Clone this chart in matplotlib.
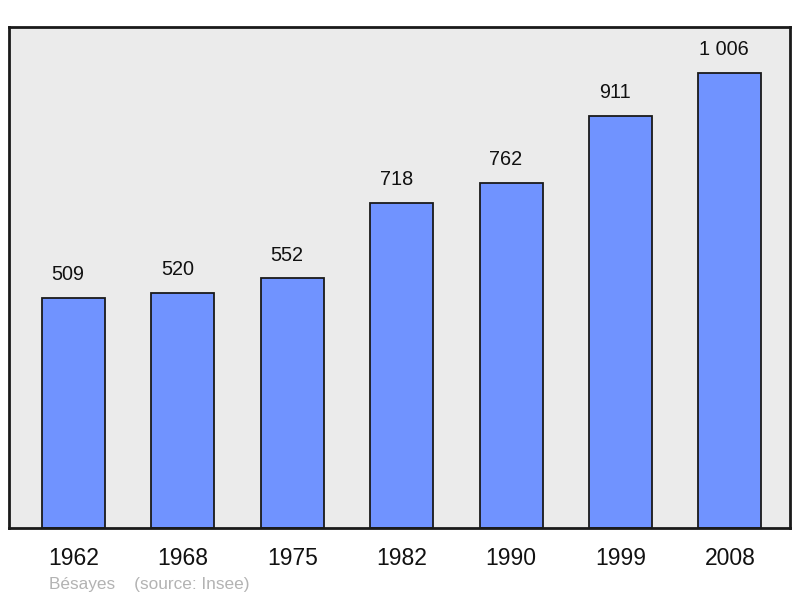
import matplotlib.pyplot as plt

years = ["1962", "1968", "1975", "1982", "1990", "1999", "2008"]
population = [509, 520, 552, 718, 762, 911, 1006]
value_labels = ["509", "520", "552", "718", "762", "911", "1 006"]

plt.rcParams["font.family"] = ["Liberation Sans", "DejaVu Sans"]

fig = plt.figure(figsize=(8, 5.98), dpi=100)
ax = fig.add_axes([9 / 800, 70 / 598, 781 / 800, 501 / 598])
ax.set_facecolor("#ebebeb")

x = range(len(years))
ax.bar(x, population, width=0.576, color="#7093ff", edgecolor="#1a1a1a",
       linewidth=1.3, zorder=2)

# labels sit a bit left of the bar centre, like the original
for i, (v, lab) in enumerate(zip(population, value_labels)):
    ax.text(i - 0.05, v + 51, lab, ha="center", va="center",
            fontsize=14.3, color="#111111")

ax.set_xlim(-0.59, 6.55)
ax.set_ylim(0, 1106.7)
ax.set_yticks([])
ax.set_xticks(list(x))
ax.set_xticklabels(years, fontsize=16.5, color="#111111")
ax.tick_params(axis="x", length=0, pad=14)
for s in ax.spines.values():
    s.set_linewidth(2)
    s.set_color("#1a1a1a")

fig.text(49 / 800, 1 - 584 / 598, "Bésayes    (source: Insee)",
         fontsize=12.4, color="#b3b3b3", va="center", ha="left")

fig.savefig("out.png", dpi=100)
